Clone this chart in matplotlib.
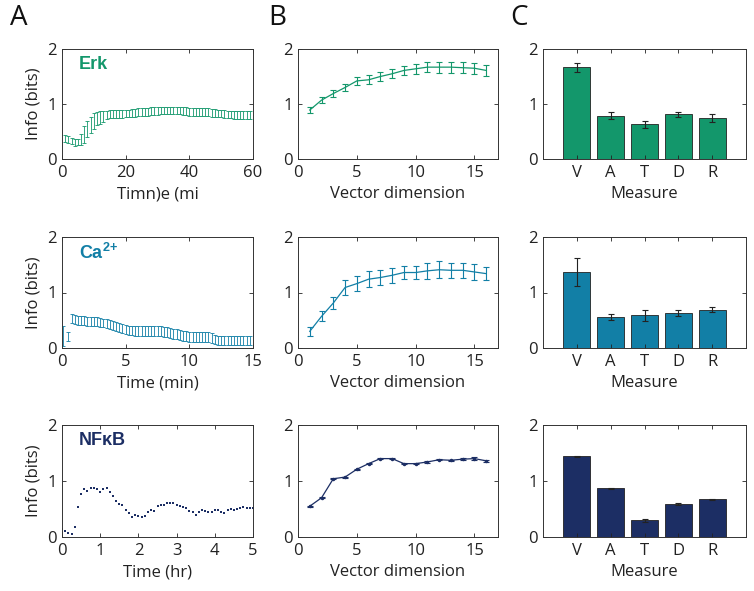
import numpy as np
import matplotlib
matplotlib.use("Agg")
import matplotlib.pyplot as plt

plt.rcParams['font.family'] = ['Open Sans', 'DejaVu Sans']
plt.rcParams['mathtext.fontset'] = 'custom'
plt.rcParams['mathtext.bf'] = 'Liberation Sans:bold'
plt.rcParams['mathtext.rm'] = 'Liberation Sans'

# colours per signal
c_erk = "#13976B"
c_ca = "#127FA6"
c_nfkb = "#1C2E64"

# --- panel A data ---
erk_t = np.arange(1, 60)
erk_info = [0.37, 0.35, 0.33, 0.30, 0.31, 0.36, 0.45, 0.55, 0.62, 0.69,
            0.73, 0.76, 0.78, 0.80, 0.82, 0.82, 0.82, 0.82, 0.82, 0.83,
            0.83, 0.84, 0.84, 0.85, 0.85, 0.86, 0.86, 0.87, 0.87, 0.87,
            0.88, 0.88, 0.88, 0.88, 0.88, 0.88, 0.88, 0.87, 0.87, 0.86,
            0.86, 0.86, 0.85, 0.85, 0.85, 0.85, 0.84, 0.84, 0.83, 0.83,
            0.82, 0.81, 0.81, 0.80, 0.80, 0.80, 0.80, 0.80, 0.80]
erk_err = [0.06, 0.06, 0.06, 0.06, 0.06, 0.10, 0.15, 0.15, 0.15, 0.15,
           0.12, 0.12, 0.10, 0.08, 0.07, 0.07, 0.07, 0.07, 0.07, 0.07,
           0.07, 0.07, 0.07, 0.07, 0.07, 0.07, 0.07, 0.07, 0.07, 0.07,
           0.07, 0.07, 0.07, 0.07, 0.07, 0.07, 0.07, 0.07, 0.07, 0.07,
           0.07, 0.07, 0.07, 0.07, 0.07, 0.07, 0.07, 0.07, 0.07, 0.07,
           0.07, 0.07, 0.07, 0.07, 0.07, 0.07, 0.07, 0.07, 0.07]

ca_t = np.concatenate([[0.05, 0.45], np.arange(0.75, 14.8, 0.25)])
ca_info = [0.21, 0.20,
           0.53, 0.52, 0.50, 0.49, 0.49, 0.48, 0.48, 0.47, 0.47, 0.46,
           0.45, 0.44, 0.42, 0.40, 0.38, 0.37, 0.35, 0.33, 0.32, 0.31,
           0.31, 0.30, 0.30, 0.30, 0.30, 0.30, 0.30, 0.30, 0.30, 0.29,
           0.28, 0.27, 0.26, 0.25, 0.24, 0.22, 0.21, 0.20, 0.20, 0.20,
           0.19, 0.19, 0.19, 0.19, 0.18, 0.15, 0.14, 0.14, 0.14, 0.14,
           0.14, 0.14, 0.14, 0.14, 0.14, 0.14, 0.14]
ca_err = [0.18, 0.08] + [0.08] * 20 + [0.09] * 25 + [0.08] * 12

nfkb_t = np.arange(0, 61) / 12.0
nfkb_info = [0.14, 0.11, 0.08, 0.05, 0.18, 0.54, 0.77, 0.85, 0.83, 0.87,
             0.87, 0.85, 0.81, 0.85, 0.87, 0.81, 0.74, 0.64, 0.59, 0.57,
             0.48, 0.43, 0.35, 0.39, 0.37, 0.36, 0.38, 0.45, 0.49, 0.47,
             0.55, 0.58, 0.57, 0.61, 0.60, 0.60, 0.58, 0.56, 0.54, 0.51,
             0.47, 0.44, 0.40, 0.45, 0.48, 0.46, 0.45, 0.45, 0.49, 0.48,
             0.45, 0.43, 0.49, 0.50, 0.49, 0.50, 0.52, 0.53, 0.52, 0.52,
             0.52]

# --- panel B data ---
dims = np.arange(1, 17)
erk_dim = [0.89, 1.07, 1.19, 1.30, 1.42, 1.44, 1.50, 1.55,
           1.61, 1.64, 1.67, 1.67, 1.67, 1.66, 1.65, 1.61]
erk_dim_err = [0.05, 0.06, 0.06, 0.07, 0.07, 0.08, 0.08, 0.08,
               0.08, 0.09, 0.09, 0.10, 0.10, 0.10, 0.10, 0.10]
ca_dim = [0.30, 0.57, 0.81, 1.09, 1.16, 1.24, 1.27, 1.31,
          1.36, 1.36, 1.39, 1.41, 1.40, 1.40, 1.37, 1.34]
ca_dim_err = [0.08, 0.09, 0.10, 0.13, 0.14, 0.14, 0.13, 0.13,
              0.12, 0.12, 0.14, 0.15, 0.14, 0.13, 0.14, 0.12]
nfkb_dim = [0.55, 0.70, 1.04, 1.07, 1.21, 1.31, 1.40, 1.40,
            1.31, 1.31, 1.34, 1.38, 1.37, 1.39, 1.40, 1.36]
nfkb_dim_err = [0.01, 0.01, 0.01, 0.01, 0.01, 0.01, 0.01, 0.01,
                0.01, 0.01, 0.01, 0.01, 0.01, 0.02, 0.02, 0.02]

# --- panel C data ---
measures = ["V", "A", "T", "D", "R"]
erk_meas = [1.67, 0.79, 0.63, 0.81, 0.75]
erk_meas_err = [0.08, 0.07, 0.07, 0.04, 0.07]
ca_meas = [1.37, 0.56, 0.59, 0.63, 0.69]
ca_meas_err = [0.25, 0.05, 0.10, 0.06, 0.04]
nfkb_meas = [1.44, 0.87, 0.30, 0.59, 0.67]
nfkb_meas_err = [0.01, 0.01, 0.03, 0.01, 0.01]

W, H = 754, 591
fig = plt.figure(figsize=(W / 100, H / 100), dpi=100)
fig.patch.set_facecolor('white')

rows = [(49, 159), (237, 348), (425, 537)]
cols = [(62, 253), (298, 498), (543, 746)]


def make_ax(r, c):
    top, bot = rows[r]
    left, right = cols[c]
    ax = fig.add_axes([left / W, 1 - bot / H, (right - left) / W, (bot - top) / H])
    ax.set_ylim(0, 2)
    ax.set_yticks([0, 1, 2])
    ax.tick_params(direction='in', top=True, right=True, length=3, width=0.6,
                   labelsize=12, colors='#222222', pad=4)
    for s in ax.spines.values():
        s.set_linewidth(0.7)
        s.set_color('#333333')
    return ax


label_font = dict(fontsize=12, color='#222222')
name_font = dict(fontsize=13, fontweight='bold', family=['Liberation Sans', 'DejaVu Sans'])

# column A
ax = make_ax(0, 0)
ax.errorbar(erk_t, erk_info, yerr=erk_err, fmt='none', ecolor=c_erk,
            elinewidth=0.6, capsize=1.2, capthick=0.6)
ax.set_xlim(0, 60)
ax.set_xticks([0, 20, 40, 60])
ax.set_xlabel("Timn)e (mi", **label_font)
ax.set_ylabel("Info (bits)", **label_font)
ax.text(0.09, 0.86, "Erk", color=c_erk, transform=ax.transAxes, va='center', **name_font)

ax = make_ax(1, 0)
ax.errorbar(ca_t, ca_info, yerr=ca_err, fmt='none', ecolor=c_ca,
            elinewidth=0.6, capsize=1.2, capthick=0.6)
ax.set_xlim(0, 15)
ax.set_xticks([0, 5, 10, 15])
ax.set_xlabel("Time (min)", **label_font)
ax.set_ylabel("Info (bits)", **label_font)
ax.text(0.09, 0.86, r"$\mathbf{Ca^{2\!+}}$", color=c_ca, transform=ax.transAxes,
        va='center', fontsize=13)

ax = make_ax(2, 0)
ax.plot(nfkb_t, nfkb_info, 's', color=c_nfkb, markersize=1.7, markeredgewidth=0)
ax.set_xlim(0, 5)
ax.set_xticks([0, 1, 2, 3, 4, 5])
ax.set_xlabel("Time (hr)", **label_font)
ax.set_ylabel("Info (bits)", **label_font)
ax.text(0.09, 0.86, "NF\u03baB", color=c_nfkb, transform=ax.transAxes, va='center', **name_font)

# column B
for r, (vals, errs, col) in enumerate([(erk_dim, erk_dim_err, c_erk),
                                        (ca_dim, ca_dim_err, c_ca),
                                        (nfkb_dim, nfkb_dim_err, c_nfkb)]):
    ax = make_ax(r, 1)
    ax.errorbar(dims, vals, yerr=errs, color=col, linewidth=0.9,
                elinewidth=0.8, capsize=2, capthick=0.8,
                marker='.' if r == 2 else None, markersize=3)
    ax.set_xlim(0, 17)
    ax.set_xticks([0, 5, 10, 15])
    ax.set_xlabel("Vector dimension", **label_font)

# column C
for r, (vals, errs, col) in enumerate([(erk_meas, erk_meas_err, c_erk),
                                        (ca_meas, ca_meas_err, c_ca),
                                        (nfkb_meas, nfkb_meas_err, c_nfkb)]):
    ax = make_ax(r, 2)
    xs = np.arange(1, len(measures) + 1)
    ax.bar(xs, vals, width=0.8, color=col, edgecolor='#222222', linewidth=0.6)
    ax.errorbar(xs, vals, yerr=errs, fmt='none', ecolor='#222222',
                elinewidth=0.8, capsize=2.5, capthick=0.8)
    ax.set_xlim(0, 6)
    ax.set_xticks(xs)
    ax.set_xticklabels(measures)
    ax.set_xlabel("Measure", **label_font)

# panel letters
for x, letter in [(10, "A"), (268, "B"), (510, "C")]:
    fig.text(x / W, 1 - 18 / H, letter, fontsize=20, va='center', ha='left', color='#111111')

fig.savefig("out.png", dpi=100, facecolor='white')
